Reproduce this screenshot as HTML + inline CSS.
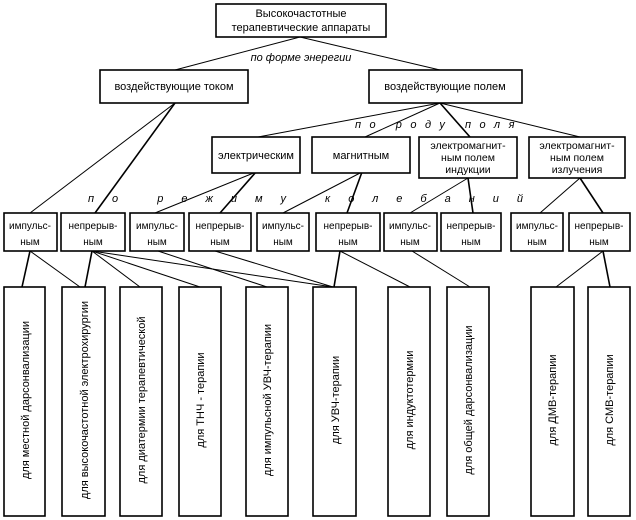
<!DOCTYPE html>
<html><head><meta charset="utf-8"><style>
html,body{margin:0;padding:0;background:#fff;}
svg{display:block;font-family:"Liberation Sans",sans-serif;font-size:11px;}
text{fill:#000;}
</style></head><body>
<svg width="636" height="520" viewBox="0 0 636 520" xmlns="http://www.w3.org/2000/svg">
<g fill="none" stroke="#000" stroke-width="1">
<line x1="300" y1="37" x2="175" y2="70"/>
<line x1="300" y1="37" x2="440" y2="70"/>
<line x1="175" y1="103" x2="30" y2="213"/>
<line x1="175" y1="103" x2="95" y2="213" stroke-width="1.6"/>
<line x1="440" y1="103" x2="258" y2="137"/>
<line x1="440" y1="103" x2="365" y2="137"/>
<line x1="440" y1="103" x2="470" y2="137" stroke-width="1.6"/>
<line x1="440" y1="103" x2="580" y2="137"/>
<line x1="256" y1="172" x2="155" y2="213"/>
<line x1="256" y1="172" x2="220" y2="213" stroke-width="1.6"/>
<line x1="362" y1="172" x2="283" y2="213"/>
<line x1="362" y1="172" x2="347" y2="213" stroke-width="1.6"/>
<line x1="468" y1="178" x2="410" y2="213"/>
<line x1="468" y1="178" x2="473" y2="213" stroke-width="1.6"/>
<line x1="580" y1="178" x2="540" y2="213"/>
<line x1="580" y1="178" x2="603" y2="213" stroke-width="1.6"/>
<line x1="30" y1="251" x2="22" y2="287" stroke-width="1.6"/>
<line x1="30" y1="251" x2="80" y2="287"/>
<line x1="92" y1="251" x2="85" y2="287" stroke-width="1.6"/>
<line x1="92" y1="251" x2="140" y2="287"/>
<line x1="92" y1="251" x2="200" y2="287"/>
<line x1="92" y1="251" x2="333" y2="287"/>
<line x1="158" y1="251" x2="267" y2="287"/>
<line x1="215" y1="251" x2="333" y2="287"/>
<line x1="340" y1="251" x2="334" y2="287" stroke-width="1.6"/>
<line x1="340" y1="251" x2="410" y2="287"/>
<line x1="412" y1="251" x2="470" y2="287"/>
<line x1="603" y1="251" x2="556" y2="287"/>
<line x1="603" y1="251" x2="610" y2="287" stroke-width="1.6"/>
</g>
<g fill="#fff" stroke="#000" stroke-width="1.6">
<rect x="216" y="4" width="170" height="33"/>
<rect x="100" y="70" width="148" height="33"/>
<rect x="369" y="70" width="153" height="33"/>
<rect x="212" y="137" width="88" height="36"/>
<rect x="312" y="137" width="98" height="36"/>
<rect x="419" y="137" width="98" height="41"/>
<rect x="529" y="137" width="96" height="41"/>
<rect x="4" y="213" width="53" height="38"/>
<rect x="61" y="213" width="64" height="38"/>
<rect x="130" y="213" width="54" height="38"/>
<rect x="189" y="213" width="62" height="38"/>
<rect x="257" y="213" width="52" height="38"/>
<rect x="316" y="213" width="64" height="38"/>
<rect x="384" y="213" width="53" height="38"/>
<rect x="441" y="213" width="60" height="38"/>
<rect x="511" y="213" width="52" height="38"/>
<rect x="569" y="213" width="61" height="38"/>
<rect x="4" y="287" width="41" height="229"/>
<rect x="62" y="287" width="43" height="229"/>
<rect x="120" y="287" width="42" height="229"/>
<rect x="179" y="287" width="42" height="229"/>
<rect x="246" y="287" width="42" height="229"/>
<rect x="313" y="287" width="43" height="229"/>
<rect x="388" y="287" width="42" height="229"/>
<rect x="447" y="287" width="42" height="229"/>
<rect x="531" y="287" width="43" height="229"/>
<rect x="588" y="287" width="42" height="229"/>
</g>
<g text-anchor="middle">
<text x="301" y="17">Высокочастотные</text>
<text x="301" y="31">терапевтические аппараты</text>
<text x="301" y="61" font-style="italic">по форме энерегии</text>
<text x="174" y="90">воздействующие током</text>
<text x="445" y="90">воздействующие полем</text>
<text x="256" y="159">электрическим</text>
<text x="361" y="159">магнитным</text>
<g font-size="10.5">
<text x="468" y="149">электромагнит-</text>
<text x="468" y="161">ным полем</text>
<text x="468" y="173">индукции</text>
<text x="577" y="149">электромагнит-</text>
<text x="577" y="161">ным полем</text>
<text x="577" y="173">излучения</text>
</g>
</g>
<text x="355" y="128" font-style="italic" letter-spacing="8.5">по роду поля</text>
<text x="88" y="202" font-style="italic" letter-spacing="18">по режиму колебаний</text>
<g text-anchor="middle" font-size="10">
<text x="30" y="229">импульс-</text><text x="30" y="245">ным</text>
<text x="93" y="229">непрерыв-</text><text x="93" y="245">ным</text>
<text x="157" y="229">импульс-</text><text x="157" y="245">ным</text>
<text x="220" y="229">непрерыв-</text><text x="220" y="245">ным</text>
<text x="283" y="229">импульс-</text><text x="283" y="245">ным</text>
<text x="348" y="229">непрерыв-</text><text x="348" y="245">ным</text>
<text x="410" y="229">импульс-</text><text x="410" y="245">ным</text>
<text x="471" y="229">непрерыв-</text><text x="471" y="245">ным</text>
<text x="537" y="229">импульс-</text><text x="537" y="245">ным</text>
<text x="599" y="229">непрерыв-</text><text x="599" y="245">ным</text>
</g>
<g text-anchor="middle" font-size="11">
<text transform="translate(29,400) rotate(-90)">для местной дарсонвализации</text>
<text transform="translate(88,400) rotate(-90)">для высокочастотной электрохирургии</text>
<text transform="translate(145,400) rotate(-90)">для диатермии терапевтической</text>
<text transform="translate(204,400) rotate(-90)">для ТНЧ - терапии</text>
<text transform="translate(271,400) rotate(-90)">для импульсной УВЧ-терапии</text>
<text transform="translate(339,400) rotate(-90)">для УВЧ-терапии</text>
<text transform="translate(413,400) rotate(-90)">для индуктотермии</text>
<text transform="translate(472,400) rotate(-90)">для общей дарсонвализации</text>
<text transform="translate(556,400) rotate(-90)">для ДМВ-терапии</text>
<text transform="translate(613,400) rotate(-90)">для СМВ-терапии</text>
</g>
</svg>
</body></html>
